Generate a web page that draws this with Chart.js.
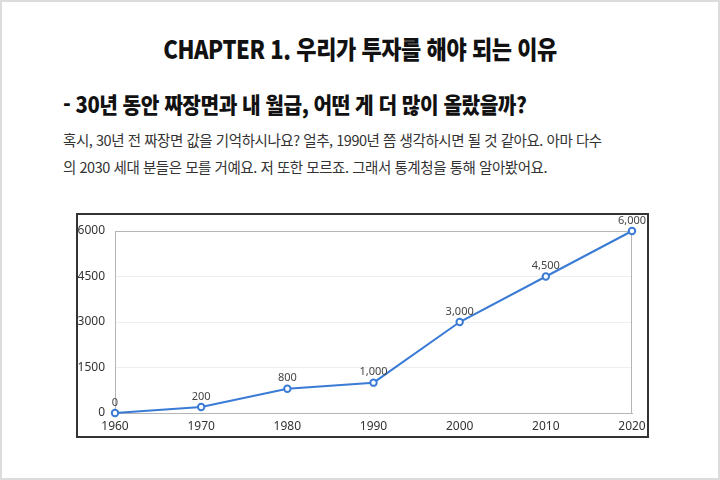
<!DOCTYPE html>
<html lang="ko">
<head>
<meta charset="utf-8">
<script src="https://cdn.jsdelivr.net/npm/chart.js@4.4.1/dist/chart.umd.min.js"></script>
<style>
  html, body { margin: 0; padding: 0; background: #fff; }
  body {
    width: 720px; height: 480px; position: relative; overflow: hidden;
    box-sizing: border-box; border: 2px solid #dcdcdc;
    font-family: "Noto Sans CJK KR", "Noto Sans", sans-serif; color: #222;
  }
  .title {
    position: absolute; left: 0; width: 716px; top: 30px; text-align: center;
    font-size: 25px; font-weight: 900; line-height: 32px; letter-spacing: -0.5px;
    transform: scaleX(0.88); transform-origin: center; color: #111;
  }
  .subtitle {
    position: absolute; left: 61px; top: 86px; white-space: nowrap;
    font-size: 22px; font-weight: 900; line-height: 30px; letter-spacing: -0.5px;
    transform: scaleX(0.92); transform-origin: left center; color: #111;
  }
  .body-text {
    position: absolute; left: 61px; top: 124px; width: 620px; white-space: nowrap;
    font-size: 14.5px; line-height: 27px; color: #333; letter-spacing: -0.45px;
  }
  .chart-box {
    position: absolute; left: 74px; top: 211px; width: 573px; height: 225px;
    box-sizing: border-box; border: 2px solid #333;
  }
  .chart-box canvas { display: block; }
</style>
</head>
<body>
<div class="title">CHAPTER 1. 우리가 투자를 해야 되는 이유</div>
<div class="subtitle">- 30년 동안 짜장면과 내 월급, 어떤 게 더 많이 올랐을까?</div>
<div class="body-text">혹시, 30년 전 짜장면 값을 기억하시나요? 얼추, 1990년 쯤 생각하시면 될 것 같아요. 아마 다수<br>의 2030 세대 분들은 모를 거예요. 저 또한 모르죠. 그래서 통계청을 통해 알아봤어요.</div>
<div class="chart-box"><canvas id="chart" width="569" height="221"></canvas></div>
<script>
// 짜장면 가격 (원)
const years = ["1960", "1970", "1980", "1990", "2000", "2010", "2020"];
const prices = [0, 200, 800, 1000, 3000, 4500, 6000];
const yTicks = [0, 1500, 3000, 4500, 6000];

const lineColor = "#3a7bd5";

// 점 위에 값 표시
const valueLabels = {
  id: "valueLabels",
  afterDatasetsDraw(chart) {
    const ctx = chart.ctx;
    const meta = chart.getDatasetMeta(0);
    ctx.save();
    ctx.font = "11px 'Noto Sans', sans-serif";
    ctx.fillStyle = "#444";
    ctx.textAlign = "center";
    ctx.textBaseline = "bottom";
    meta.data.forEach((pt, i) => {
      ctx.fillText(prices[i].toLocaleString("en-US"), pt.x, pt.y - 5);
    });
    ctx.restore();
  }
};

// 플롯 영역 테두리
const plotBorder = {
  id: "plotBorder",
  beforeDatasetsDraw(chart) {
    const { ctx, chartArea: a } = chart;
    ctx.save();
    ctx.strokeStyle = "#b5b5b5";
    ctx.lineWidth = 1;
    ctx.strokeRect(a.left + 0.5, a.top + 0.5, a.right - a.left - 1, a.bottom - a.top);
    ctx.restore();
  }
};

new Chart(document.getElementById("chart"), {
  type: "line",
  data: {
    labels: years,
    datasets: [{
      data: prices,
      borderColor: lineColor,
      borderWidth: 2,
      pointRadius: 3.2,
      pointBorderWidth: 2,
      pointBackgroundColor: "#fff",
      pointBorderColor: lineColor,
      tension: 0,
      clip: false
    }]
  },
  options: {
    responsive: false,
    animation: false,
    devicePixelRatio: 1,
    layout: { padding: { top: 16, right: 15, left: 0, bottom: 0 } },
    plugins: { legend: { display: false }, tooltip: { enabled: false } },
    scales: {
      x: {
        offset: false,
        grid: { display: false, drawTicks: false },
        border: { color: "#b5b5b5" },
        ticks: { color: "#333", padding: 6, font: { size: 12, family: "'Noto Sans', sans-serif" }, maxRotation: 0 },
        afterFit(scale) {
          scale.height = 23;
          scale.paddingLeft = 0;
          scale.paddingRight = 0;
        }
      },
      y: {
        min: 0,
        max: 6000,
        afterBuildTicks(scale) { scale.ticks = yTicks.map(v => ({ value: v })); },
        grid: { color: "#efefef", drawTicks: false },
        border: { color: "#b5b5b5" },
        ticks: {
          color: "#333", padding: 10, font: { size: 12, family: "'Noto Sans', sans-serif" },
          callback: v => String(v)
        },
        afterFit(scale) {
          scale.width = 37;
          scale.paddingTop = 0;
          scale.paddingBottom = 0;
        }
      }
    }
  },
  plugins: [plotBorder, valueLabels]
});
</script>
</body>
</html>
